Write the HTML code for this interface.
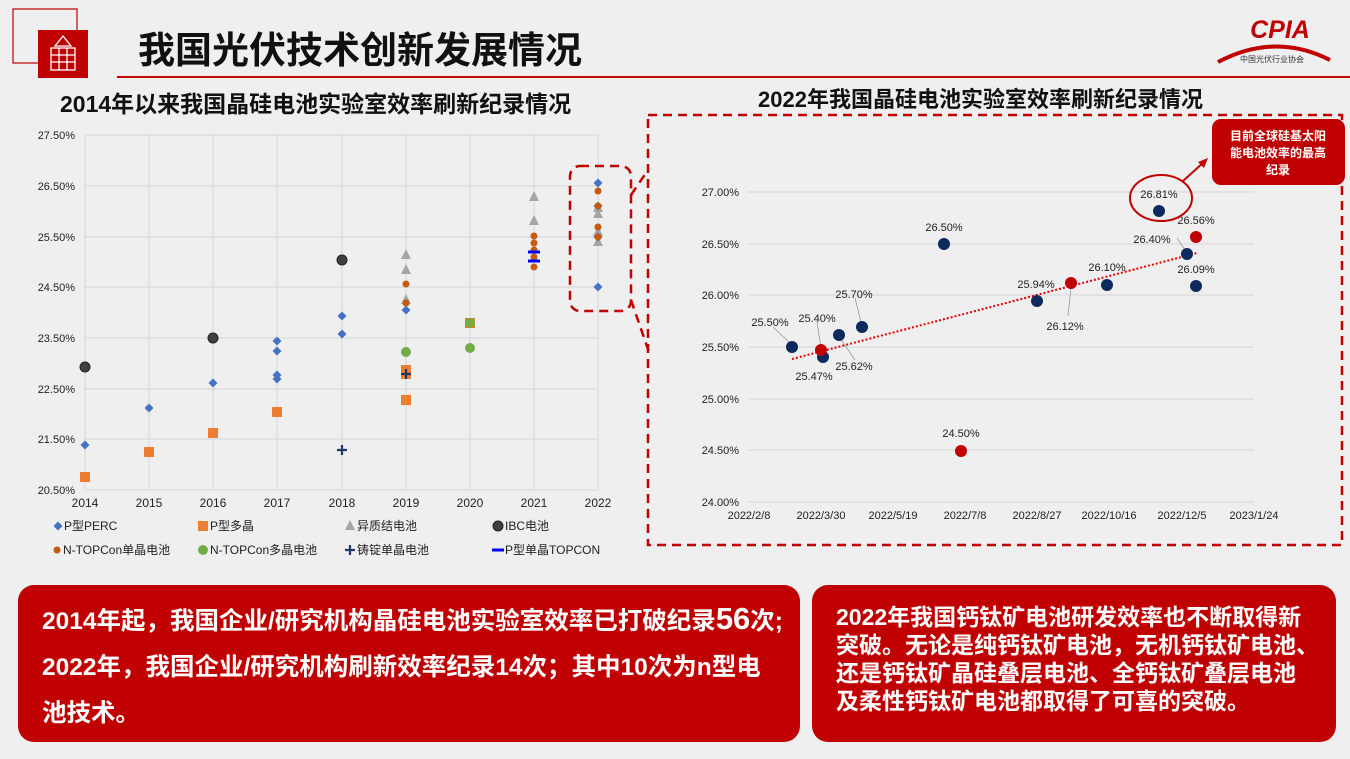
<!DOCTYPE html>
<html><head><meta charset="utf-8"><style>
body{margin:0;width:1350px;height:759px;background:#efefef;overflow:hidden;font-family:"Liberation Sans","Noto Sans CJK SC",sans-serif}
svg{position:absolute;left:0;top:0}
.box{position:absolute;background:#c00000;border-radius:16px;color:#fff;font-weight:bold;font-family:"Liberation Sans","Noto Sans CJK SC",sans-serif;white-space:nowrap}
</style></head><body>
<svg width="1350" height="759" viewBox="0 0 1350 759" font-family="Liberation Sans, Noto Sans CJK SC, sans-serif">
<rect x="13" y="9" width="64" height="54" fill="none" stroke="#c00000" stroke-width="1.2"/>
<rect x="38" y="30" width="50" height="48" fill="#c00000"/>
<g stroke="#fff" stroke-width="1.3" fill="none"><rect x="51" y="48" width="24" height="22"/><path d="M51 55H75M51 62H75M59 48V70M67 48V70M63 36L55 46H71Z"/></g>
<text x="138" y="63" font-size="37" font-weight="bold" fill="#111">我国光伏技术创新发展情况</text>
<line x1="117" y1="77" x2="1350" y2="77" stroke="#c00000" stroke-width="2"/>
<text x="1280" y="38" font-size="25" font-weight="bold" fill="#c00000" text-anchor="middle" font-style="italic">CPIA</text>
<path d="M1218 62 Q1275 32 1330 60" stroke="#c00000" stroke-width="4" fill="none"/>
<text x="1272" y="62" font-size="8" fill="#333" text-anchor="middle">中国光伏行业协会</text>
<text x="60" y="112" font-size="23" font-weight="bold" fill="#111">2014年以来我国晶硅电池实验室效率刷新纪录情况</text>
<text x="758" y="107" font-size="22" font-weight="bold" fill="#111">2022年我国晶硅电池实验室效率刷新纪录情况</text>

<g stroke="#d4d4d4" stroke-width="1">
<line x1="85" y1="135" x2="598" y2="135"/><line x1="85" y1="186" x2="598" y2="186"/><line x1="85" y1="237" x2="598" y2="237"/><line x1="85" y1="287" x2="598" y2="287"/><line x1="85" y1="338" x2="598" y2="338"/><line x1="85" y1="389" x2="598" y2="389"/><line x1="85" y1="439" x2="598" y2="439"/><line x1="85" y1="490" x2="598" y2="490"/>
<line x1="85" y1="135" x2="85" y2="490"/><line x1="149" y1="135" x2="149" y2="490"/><line x1="213" y1="135" x2="213" y2="490"/><line x1="277" y1="135" x2="277" y2="490"/><line x1="342" y1="135" x2="342" y2="490"/><line x1="406" y1="135" x2="406" y2="490"/><line x1="470" y1="135" x2="470" y2="490"/><line x1="534" y1="135" x2="534" y2="490"/><line x1="598" y1="135" x2="598" y2="490"/>
</g>
<g font-size="11" fill="#222" text-anchor="end">
<text x="75" y="139">27.50%</text><text x="75" y="190">26.50%</text><text x="75" y="241">25.50%</text><text x="75" y="291">24.50%</text><text x="75" y="342">23.50%</text><text x="75" y="393">22.50%</text><text x="75" y="443">21.50%</text><text x="75" y="494">20.50%</text>
</g>
<g font-size="12" fill="#222" text-anchor="middle">
<text x="85" y="507">2014</text><text x="149" y="507">2015</text><text x="213" y="507">2016</text><text x="277" y="507">2017</text><text x="342" y="507">2018</text><text x="406" y="507">2019</text><text x="470" y="507">2020</text><text x="534" y="507">2021</text><text x="598" y="507">2022</text>
</g>
<defs>
<path id="dm" d="M0,-4.5L4.5,0L0,4.5L-4.5,0Z" fill="#4472c4"/>
<rect id="sq" x="-5" y="-5" width="10" height="10" fill="#ed7d31"/>
<path id="tr" d="M0,-6L5,4H-5Z" fill="#a5a5a5"/>
<circle id="ibc" r="5" fill="#404040" stroke="#222" stroke-width="1"/>
<circle id="nt" r="3.5" fill="#c55a11"/>
<circle id="gr" r="5" fill="#70ad47"/>
<path id="pl" d="M-5,0H5M0,-5V5" stroke="#1f3864" stroke-width="2.2"/>
<rect id="ds" x="-6" y="-1.5" width="12" height="3" fill="#0000ff"/>
</defs>
<use href="#tr" x="406" y="255"/><use href="#tr" x="406" y="270"/><use href="#tr" x="406" y="300"/><use href="#tr" x="534" y="197"/><use href="#tr" x="534" y="221"/><use href="#tr" x="598" y="208"/><use href="#tr" x="598" y="214"/><use href="#tr" x="598" y="232"/><use href="#tr" x="598" y="242"/>
<use href="#sq" x="85" y="477"/><use href="#sq" x="149" y="452"/><use href="#sq" x="213" y="433"/><use href="#sq" x="277" y="412"/><use href="#sq" x="406" y="370"/><use href="#sq" x="406" y="374"/><use href="#sq" x="406" y="400"/><use href="#sq" x="470" y="323"/>
<use href="#dm" x="85" y="445"/><use href="#dm" x="149" y="408"/><use href="#dm" x="213" y="383"/><use href="#dm" x="277" y="341"/><use href="#dm" x="277" y="351"/><use href="#dm" x="277" y="375"/><use href="#dm" x="277" y="379"/><use href="#dm" x="342" y="316"/><use href="#dm" x="342" y="334"/><use href="#dm" x="406" y="310"/><use href="#dm" x="598" y="183"/><use href="#dm" x="598" y="206"/><use href="#dm" x="598" y="237"/><use href="#dm" x="598" y="287"/>
<use href="#ibc" x="85" y="367"/><use href="#ibc" x="213" y="338"/><use href="#ibc" x="342" y="260"/>
<use href="#nt" x="406" y="284"/><use href="#nt" x="406" y="303"/><use href="#nt" x="534" y="236"/><use href="#nt" x="534" y="243"/><use href="#nt" x="534" y="250"/><use href="#nt" x="534" y="257"/><use href="#nt" x="534" y="267"/><use href="#nt" x="598" y="191"/><use href="#nt" x="598" y="206"/><use href="#nt" x="598" y="227"/><use href="#nt" x="598" y="237"/>
<use href="#gr" x="406" y="352"/><use href="#gr" x="470" y="348"/><use href="#gr" x="470" y="323"/>
<use href="#pl" x="342" y="450"/><use href="#pl" x="406" y="374"/>
<use href="#ds" x="534" y="252"/><use href="#ds" x="534" y="261"/>
<g font-size="12" fill="#222">
<use href="#dm" x="58" y="526"/><text x="64" y="530">P型PERC</text>
<use href="#sq" x="203" y="526"/><text x="210" y="530">P型多晶</text>
<use href="#tr" x="350" y="526"/><text x="357" y="530">异质结电池</text>
<use href="#ibc" x="498" y="526"/><text x="505" y="530">IBC电池</text>
<use href="#nt" x="57" y="550"/><text x="63" y="554">N-TOPCon单晶电池</text>
<use href="#gr" x="203" y="550"/><text x="210" y="554">N-TOPCon多晶电池</text>
<use href="#pl" x="350" y="550"/><text x="357" y="554">铸锭单晶电池</text>
<use href="#ds" x="498" y="550"/><text x="505" y="554">P型单晶TOPCON</text>
</g>
<g stroke="#c00000" stroke-width="2.5" fill="none" stroke-dasharray="9,6">
<rect x="570" y="166" width="61" height="145" rx="10"/>
<path d="M631 195 L648 170"/><path d="M631 300 L650 355"/>
<rect x="648" y="115" width="694" height="430"/>
</g>
<g stroke="#d4d4d4" stroke-width="1">
<line x1="748" y1="192" x2="1254" y2="192"/><line x1="748" y1="244" x2="1254" y2="244"/><line x1="748" y1="295" x2="1254" y2="295"/><line x1="748" y1="347" x2="1254" y2="347"/><line x1="748" y1="399" x2="1254" y2="399"/><line x1="748" y1="450" x2="1254" y2="450"/><line x1="748" y1="502" x2="1254" y2="502"/>
</g>
<g font-size="11" fill="#222" text-anchor="end">
<text x="739" y="196">27.00%</text><text x="739" y="248">26.50%</text><text x="739" y="299">26.00%</text><text x="739" y="351">25.50%</text><text x="739" y="403">25.00%</text><text x="739" y="454">24.50%</text><text x="739" y="506">24.00%</text>
</g>
<g font-size="11" fill="#222" text-anchor="middle">
<text x="749" y="519">2022/2/8</text><text x="821" y="519">2022/3/30</text><text x="893" y="519">2022/5/19</text><text x="965" y="519">2022/7/8</text><text x="1037" y="519">2022/8/27</text><text x="1109" y="519">2022/10/16</text><text x="1182" y="519">2022/12/5</text><text x="1254" y="519">2023/1/24</text>
</g>
<line x1="792" y1="359" x2="1197" y2="253" stroke="#e00000" stroke-width="2" stroke-dasharray="2,2"/>
<g stroke="#999" stroke-width="0.8" fill="none">
<path d="M773 327L790 343"/><path d="M817 322L821 348"/><path d="M855 298L861 322"/><path d="M855 360L840 338"/><path d="M1068 316L1071 288"/><path d="M1177 238L1185 250"/>
</g>
<g fill="#0d2a5e">
<circle cx="792" cy="347" r="6"/><circle cx="823" cy="357" r="6"/><circle cx="839" cy="335" r="6"/><circle cx="862" cy="327" r="6"/><circle cx="944" cy="244" r="6"/><circle cx="1037" cy="301" r="6"/><circle cx="1107" cy="285" r="6"/><circle cx="1159" cy="211" r="6"/><circle cx="1187" cy="254" r="6"/><circle cx="1196" cy="286" r="6"/>
</g>
<g fill="#c00000">
<circle cx="821" cy="350" r="6"/><circle cx="961" cy="451" r="6"/><circle cx="1071" cy="283" r="6"/><circle cx="1196" cy="237" r="6"/>
</g>
<g font-size="11" fill="#222" text-anchor="middle">
<text x="770" y="326">25.50%</text><text x="817" y="322">25.40%</text><text x="854" y="298">25.70%</text><text x="854" y="370">25.62%</text><text x="814" y="380">25.47%</text><text x="944" y="231">26.50%</text><text x="961" y="437">24.50%</text><text x="1036" y="288">25.94%</text><text x="1065" y="330">26.12%</text><text x="1107" y="271">26.10%</text><text x="1159" y="198">26.81%</text><text x="1196" y="224">26.56%</text><text x="1152" y="243">26.40%</text><text x="1196" y="273">26.09%</text>
</g>
<ellipse cx="1161" cy="198" rx="31" ry="23" fill="none" stroke="#c00000" stroke-width="2"/>
<path d="M1183 181L1204 162" stroke="#c00000" stroke-width="2"/>
<path d="M1208 158L1198 162L1204 168Z" fill="#c00000"/>
<rect x="1212" y="119" width="133" height="66" rx="9" fill="#c00000"/>
<g font-size="12" font-weight="bold" fill="#fff" text-anchor="middle">
<text x="1278" y="140">目前全球硅基太阳</text><text x="1278" y="157">能电池效率的最高</text><text x="1278" y="174">纪录</text>
</g>
</svg>
<div class="box" style="left:18px;top:585px;width:782px;height:157px;font-size:24.5px;line-height:46px;padding:11px 0 0 24px;box-sizing:border-box">
2014年起，我国企业/研究机构晶硅电池实验室效率已打破纪录<span style="font-size:31px">56</span>次;<br>2022年，我国企业/研究机构刷新效率纪录14次；其中10次为n型电<br>池技术。</div>
<div class="box" style="left:812px;top:585px;width:524px;height:157px;font-size:23px;line-height:28px;padding:18px 0 0 24px;box-sizing:border-box">
2022年我国钙钛矿电池研发效率也不断取得新<br>突破。无论是纯钙钛矿电池，无机钙钛矿电池、<br>还是钙钛矿晶硅叠层电池、全钙钛矿叠层电池<br>及柔性钙钛矿电池都取得了可喜的突破。</div>
</body></html>
